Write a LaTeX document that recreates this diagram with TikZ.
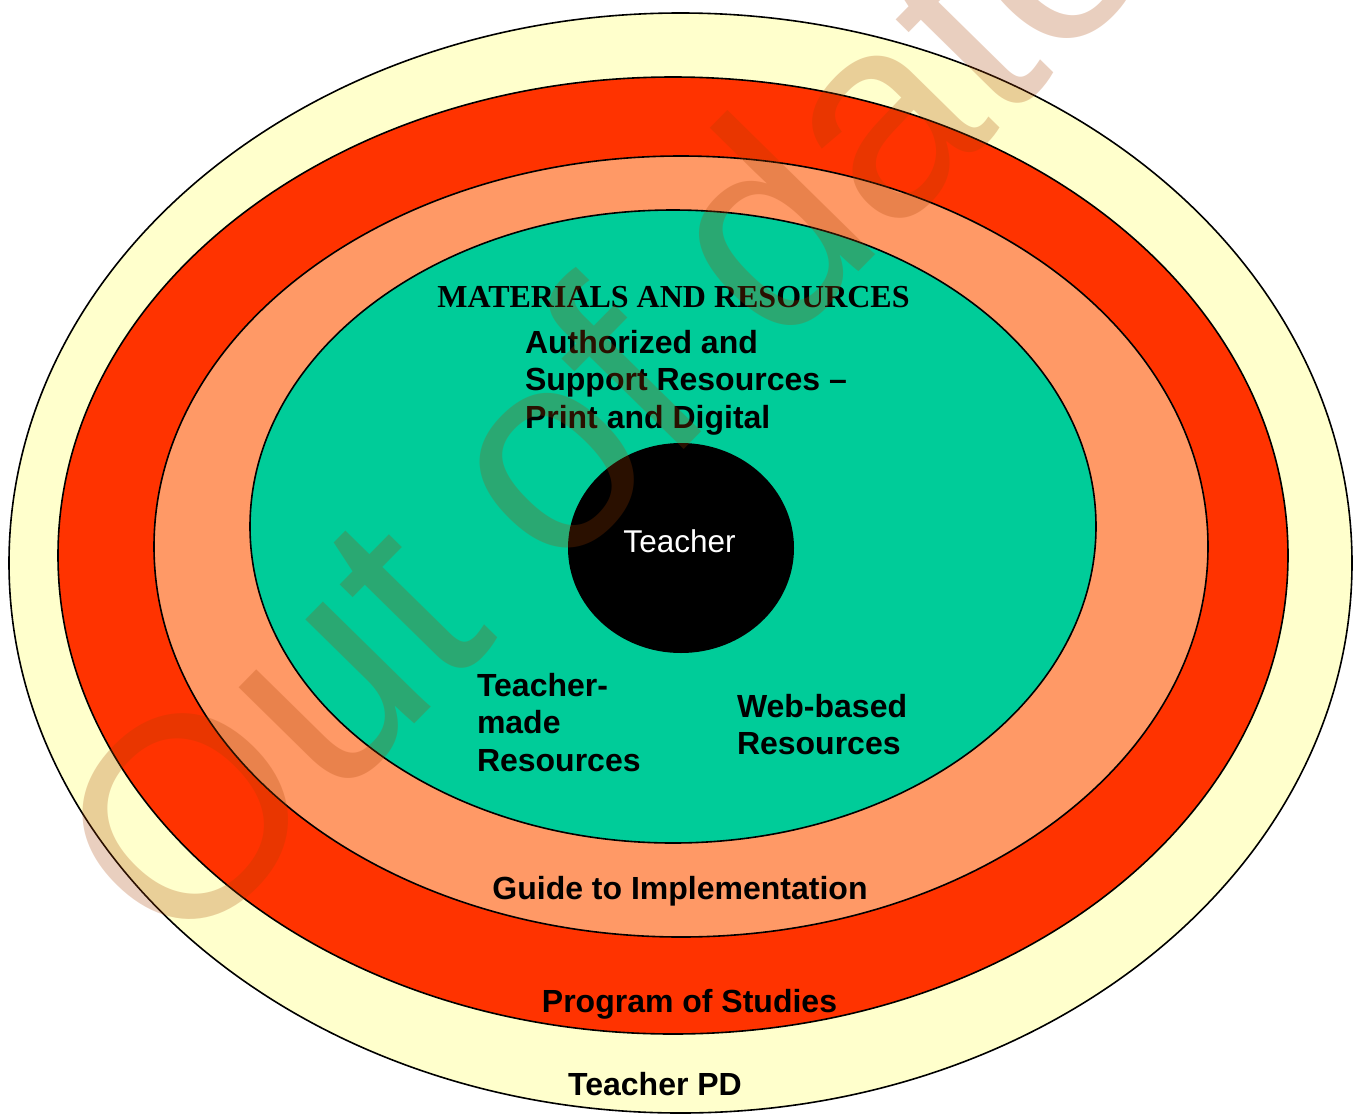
\documentclass[tikz,border=0pt]{standalone}
\usepackage{fontspec}
\setmainfont{Liberation Sans}
\newfontfamily\titlefont{Liberation Serif}
\usetikzlibrary{shapes.geometric}
\definecolor{pdyellow}{HTML}{FFFFCC}
\definecolor{posred}{HTML}{FF3300}
\definecolor{guidesalmon}{HTML}{FF9966}
\definecolor{matgreen}{HTML}{00CC99}
\definecolor{wmbrown}{HTML}{A84000}
\begin{document}
\begin{tikzpicture}[x=1pt,y=-1pt,
  ring/.style={ellipse, draw=black, line width=1.6pt, inner sep=0pt, outer sep=0pt},
  lbl/.style={font=\fontsize{32}{37.5}\selectfont\bfseries, text=black, inner sep=0pt, outer sep=0pt, align=left},
  clbl/.style={font=\fontsize{32}{37.5}\selectfont\bfseries, text=black, inner sep=0pt, outer sep=0pt, anchor=base}]
\useasboundingbox (0,0) rectangle (1363,1117);
% rings
\node[ring, fill=pdyellow, minimum width=1343pt, minimum height=1100pt] (pd) at (680.5,563) {};
\node[ring, fill=posred, minimum width=1230pt, minimum height=957pt] (pos) at (673,555.5) {};
\node[ring, fill=guidesalmon, minimum width=1054pt, minimum height=781pt] (gi) at (681,546.5) {};
\node[ring, fill=matgreen, minimum width=846pt, minimum height=633pt] (mr) at (673,526.5) {};
\node[ellipse, fill=black, minimum width=226pt, minimum height=210pt, inner sep=0pt] (teacher) at (681,548) {};
% labels (base anchor of a multi-line node = baseline of its last line)
\node[anchor=base, text=white, inner sep=0pt, font=\fontsize{31.5}{36}\selectfont] (tlabel) at (679.5,552) {Teacher};
\node[anchor=base, inner sep=0pt, font=\fontsize{32}{37.5}\selectfont\titlefont\bfseries] (title) at (673.5,307) {MATERIALS AND RESOURCES};
\node[lbl, anchor=base west] (auth) at (525,428) {Authorized and\\Support Resources –\\Print and Digital};
\node[lbl, anchor=base west] (tmade) at (477,771) {Teacher-\\made\\Resources};
\node[lbl, anchor=base west] (web) at (737,754.5) {Web-based\\Resources};
\node[clbl] (guide) at (680,899) {Guide to Implementation};
\node[clbl] (prog) at (689.5,1012) {Program of Studies};
\node[clbl] (tpd) at (655,1095) {Teacher PD};
% watermark
\node[rotate=45.5, text=wmbrown, text opacity=0.25, inner sep=0pt, font=\fontsize{285}{285}\selectfont] (wm) at (600,390) {Out of date};
\end{tikzpicture}
\end{document}
